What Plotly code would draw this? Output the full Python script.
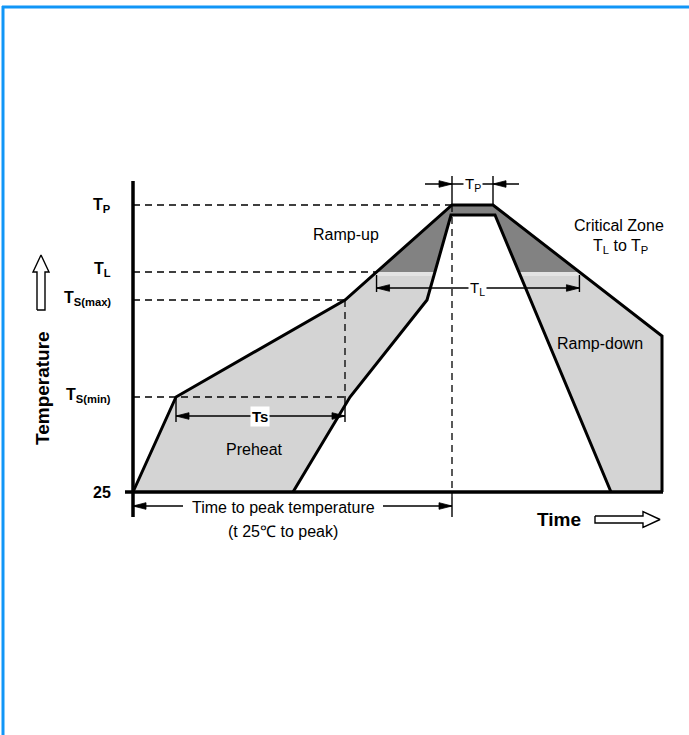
import plotly.graph_objects as go

# ---------------- data (schematic reflow profile) ----------------
# temperature levels measured above the 25 °C baseline (schematic units)
T_BASE = 0
T_SMIN = 95
T_SMAX = 192
T_L = 220
T_P = 287
T_P_INNER = 277
T_END = 156

# outer (upper / left) profile boundary
outer_t = [0, 43, 212, 319, 360, 529, 529]
outer_T = [T_BASE, T_SMIN, T_SMAX, T_P, T_P, T_END, T_BASE]
# inner (lower / right) profile boundary, traced back from the right
inner_t = [478, 362, 318, 294, 217, 160]
inner_T = [T_BASE, T_P_INNER, T_P_INNER, T_SMAX, T_SMIN, T_BASE]

level_values = [T_P, T_L, T_SMAX, T_SMIN, T_BASE]
level_labels = ["<b>T<sub>P</sub></b>", "<b>T<sub>L</sub></b>",
                "<b>T<sub>S(max)</sub></b>", "<b>T<sub>S(min)</sub></b>", "<b>25</b>"]

LIGHT = "#d4d4d4"
DARK = "#828282"
BAND = "#e3e3e3"
FONT = "Liberation Sans, Arial, sans-serif"

O = list(zip(outer_t, outer_T))
I = list(zip(inner_t, inner_T))


def at_level(p, q, level):
    (t0, T0), (t1, T1) = p, q
    return t0 + (level - T0) * (t1 - t0) / (T1 - T0)


fig = go.Figure()

# ---- main light shaded profile ----
poly_t = outer_t + inner_t + [outer_t[0]]
poly_T = outer_T + inner_T + [outer_T[0]]
fig.add_trace(go.Scatter(x=poly_t, y=poly_T, mode="lines", fill="toself",
                         fillcolor=LIGHT, line=dict(width=0), hoverinfo="skip"))

# ---- lighter band just under T_L ----
lo = T_L - 4
band_t = [at_level(O[2], O[3], T_L), at_level(I[2], I[3], T_L), at_level(I[2], I[3], lo),
          at_level(O[2], O[3], lo), at_level(O[2], O[3], T_L), None,
          at_level(O[4], O[5], T_L), at_level(I[0], I[1], T_L), at_level(I[0], I[1], lo),
          at_level(O[4], O[5], lo), at_level(O[4], O[5], T_L)]
band_T = [T_L, T_L, lo, lo, T_L, None, T_L, T_L, lo, lo, T_L]
fig.add_trace(go.Scatter(x=band_t, y=band_T, mode="lines", fill="toself",
                         fillcolor=BAND, line=dict(width=0), hoverinfo="skip"))

# ---- critical zone (T_L to T_P) dark fill ----
crit_t = [at_level(O[2], O[3], T_L), O[3][0], O[4][0], at_level(O[4], O[5], T_L),
          at_level(I[0], I[1], T_L), I[1][0], I[2][0], at_level(I[2], I[3], T_L)]
crit_T = [T_L, O[3][1], O[4][1], T_L, T_L, I[1][1], I[2][1], T_L]
fig.add_trace(go.Scatter(x=crit_t + [crit_t[0]], y=crit_T + [crit_T[0]], mode="lines",
                         fill="toself", fillcolor=DARK, line=dict(width=0), hoverinfo="skip"))

# ---- dashed guide lines ----
t_pk = outer_t[3]
dash_t = [0, t_pk, None, 0, at_level(O[2], O[3], T_L), None, 0, outer_t[2], None,
          0, outer_t[2], None, outer_t[2], outer_t[2], None, t_pk, t_pk]
dash_T = [T_P, T_P, None, T_L, T_L, None, T_SMAX, T_SMAX, None,
          T_SMIN, T_SMIN, None, T_SMAX, T_SMIN, None, T_P, -5]
fig.add_trace(go.Scatter(x=dash_t, y=dash_T, mode="lines",
                         line=dict(color="black", width=1.3, dash="7px,5px"), hoverinfo="skip"))

# ---- profile outlines ----
fig.add_trace(go.Scatter(x=outer_t, y=outer_T, mode="lines",
                         line=dict(color="black", width=3), hoverinfo="skip"))
fig.add_trace(go.Scatter(x=inner_t, y=inner_T, mode="lines",
                         line=dict(color="black", width=3), hoverinfo="skip"))

# ---- axes ----
fig.add_trace(go.Scatter(x=[0, 0, None, -8, 530], y=[311, -25, None, T_BASE, T_BASE],
                         mode="lines", line=dict(color="black", width=3.5), hoverinfo="skip"))

# ---- dimension lines ----
tl_l = at_level(O[2], O[3], T_L)
tl_r = at_level(O[4], O[5], T_L)
Y_TP, Y_TL, Y_TS, Y_TM = 308, 204, 76, -14
t_pe = outer_t[4]
t_s0, t_s1 = outer_t[1], outer_t[2]
dim_t = [t_pk - 27, t_pe + 26, None,               # T_P dimension
         t_pk, t_pk, None, t_pe, t_pe, None,       # T_P ticks
         tl_l, tl_r, None, tl_l, tl_l, None, tl_r, tl_r, None,   # T_L
         t_s0, t_s1, None, t_s0, t_s0, None, t_s1, t_s1, None,   # T_s
         0, 50, None, 250, t_pk, None, t_pk, t_pk]               # time to peak
dim_T = [Y_TP, Y_TP, None,
         T_P, 316, None, T_P, 316, None,
         Y_TL, Y_TL, None, 200, 217, None, 200, 217, None,
         Y_TS, Y_TS, None, T_SMIN, 70, None, T_SMIN, 70, None,
         Y_TM, Y_TM, None, Y_TM, Y_TM, None, -5, -25]
fig.add_trace(go.Scatter(x=dim_t, y=dim_T, mode="lines",
                         line=dict(color="black", width=1.4), hoverinfo="skip"))

# arrowheads: (tip_t, tip_T, direction)
heads = [(t_pk, Y_TP, 1), (t_pe, Y_TP, -1), (tl_l, Y_TL, -1), (tl_r, Y_TL, 1),
         (t_s0, Y_TS, -1), (t_s1, Y_TS, 1), (0, Y_TM, -1), (t_pk, Y_TM, 1)]
ht, hT = [], []
for tt, TT, d in heads:
    L, w = 13, 3.3
    ht += [tt, tt - d * L, tt - d * L, tt, None]
    hT += [TT, TT + w, TT - w, TT, None]
fig.add_trace(go.Scatter(x=ht, y=hT, mode="lines", fill="toself", fillcolor="black",
                         line=dict(color="black", width=0.8), hoverinfo="skip"))

# hollow arrows (temperature up, time right)
up_t = [-96, -96, -100, -92, -84, -88, -88, -96]
up_T = [182, 220, 220, 237, 220, 220, 182, 182]
rt_t = [462, 510, 510, 527, 510, 510, 462, 462]
rt_T = [-24, -24, -19.5, -27.5, -35.5, -31, -31, -24]
fig.add_trace(go.Scatter(x=up_t, y=up_T, mode="lines", line=dict(color="black", width=1.4),
                         hoverinfo="skip"))
fig.add_trace(go.Scatter(x=rt_t, y=rt_T, mode="lines", line=dict(color="black", width=1.4),
                         hoverinfo="skip"))

# ---- text ----
ann = []
label_dy = [0, 3, 2, 2, 0]
for v, lab, dy in zip(level_values, level_labels, label_dy):
    ann.append(dict(x=-20, y=v + dy, text=lab, xanchor="right", yanchor="middle",
                    showarrow=False, font=dict(size=16, color="black", family=FONT)))

ann.append(dict(x=-91, y=104, text="<b>Temperature</b>", textangle=-90, showarrow=False,
                xanchor="center", yanchor="middle",
                font=dict(size=19, color="black", family=FONT)))


def txt(x, y, s, size=16, bg=None, xanchor="center"):
    d = dict(x=x, y=y, text=s, showarrow=False, xanchor=xanchor, yanchor="middle",
             font=dict(size=size, color="black", family=FONT))
    if bg:
        d.update(bgcolor=bg, borderpad=1)
    return d


ann += [
    txt(213, 258, "Ramp-up"),
    txt(486, 267, "Critical Zone"),
    txt(487, 246, "T<sub>L</sub> to T<sub>P</sub>"),
    txt(467, 149, "Ramp-down"),
    txt(121, 43, "Preheat"),
    txt(150, -15, "Time to peak temperature", bg="white"),
    txt(150, -39, "(t 25℃ to peak)"),
    txt(426, -27, "<b>Time</b>", size=19),
    txt((t_pk + t_pe) / 2, Y_TP, "T<sub>P</sub>", size=15, bg="white"),
    txt(344, Y_TL, "T<sub>L</sub>", size=15, bg="white"),
    txt(127, Y_TS, "<b>Ts</b>", size=15, bg="white"),
]

# blue page frame
shapes = [
    dict(type="line", xref="x", yref="y", x0=-131, x1=556, y0=485, y1=485,
         line=dict(color="#1196f7", width=3)),
    dict(type="line", xref="x", yref="y", x0=-130, x1=-130, y0=486, y1=-243,
         line=dict(color="#1196f7", width=3)),
]

fig.update_layout(
    width=689, height=735, margin=dict(l=0, r=0, t=0, b=0),
    paper_bgcolor="white", plot_bgcolor="white", showlegend=False,
    xaxis=dict(range=[-133, 556], visible=False, fixedrange=True),
    yaxis=dict(range=[-243, 492], visible=False, fixedrange=True),
    annotations=ann, shapes=shapes,
)

fig.write_html("out.html", config={"displayModeBar": False},
               post_script="document.body.style.margin='0';")
